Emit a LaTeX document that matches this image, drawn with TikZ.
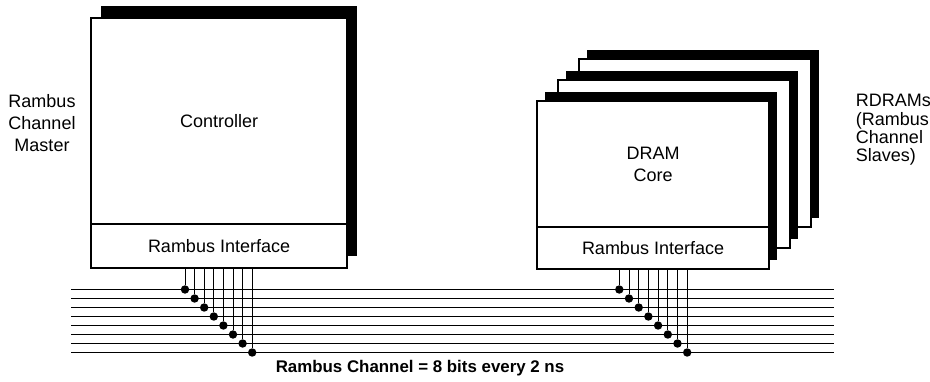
\documentclass[tikz,border=0pt]{standalone}
\usepackage{fontspec}
\setmainfont{Liberation Sans}
\usetikzlibrary{positioning,shadows}

\tikzset{
  card/.style={draw, fill=white, line width=1pt, inner sep=0pt, outer sep=0pt},
  ctrlshadow/.style={drop shadow={shadow xshift=0.26cm, shadow yshift=0.3cm, fill=black, opacity=1}},
  rdshadow/.style={drop shadow={shadow xshift=0.2cm, shadow yshift=0.225cm, fill=black, opacity=1}},
  busline/.style={line width=0.7pt},
  tapdot/.style={circle, fill, inner sep=0pt, minimum size=6pt},
}

\begin{document}
\begin{tikzpicture}[x=0.025cm, y=-0.025cm, font=\fontsize{12.8}{15.6}\selectfont]
  \useasboundingbox (0,0) rectangle (930,382);
  % channel master
  \node[card, ctrlshadow, minimum width=6.4cm, minimum height=1.1cm, anchor=south west] (ctrlif) at (91,268) {Rambus Interface};
  \node[card, ctrlshadow, minimum width=6.4cm, minimum height=5.15cm, above=0pt of ctrlif] (ctrl) {Controller};
  \node[align=center] (master) at (42,123) {Rambus\\Channel\\Master};
  % channel slaves
  \node[card, rdshadow, minimum width=5.8cm, minimum height=4.2cm, anchor=north west] (rd3) at (579,59) {};
  \node[card, rdshadow, minimum width=5.8cm, minimum height=4.2cm, anchor=north west] (rd2) at (558,80) {};
  \node[card, rdshadow, minimum width=5.8cm, minimum height=1.05cm, anchor=south west] (rdif) at (537,269) {Rambus Interface};
  \node[card, rdshadow, minimum width=5.8cm, minimum height=3.15cm, align=center, above=0pt of rdif] (rd) {DRAM\\Core};
  \node[align=left, anchor=west, font=\fontsize{12.8}{13.1}\selectfont] (slaves) at (851,130) {RDRAMs\\(Rambus\\Channel\\Slaves)};
  % the channel
  \foreach \i in {1,...,8} {
    \pgfmathsetmacro\yy{280.5+9*\i}
    \coordinate (bw\i) at (71,\yy);
    \coordinate (be\i) at (834,\yy);
    \draw[busline] (bw\i) -- (be\i);
    \node[tapdot] (ct\i) at ({175.4+9.6*\i},\yy) {};
    \draw[busline] (ctrlif.south -| ct\i) -- (ct\i);
    \node[tapdot] (dt\i) at ({609.6+9.7*\i},\yy) {};
    \draw[busline] (rdif.south -| dt\i) -- (dt\i);
  }
  \node[font=\fontsize{12}{14}\selectfont\bfseries] (chan) at (420,368) {Rambus Channel = 8 bits every 2 ns};
\end{tikzpicture}
\end{document}
